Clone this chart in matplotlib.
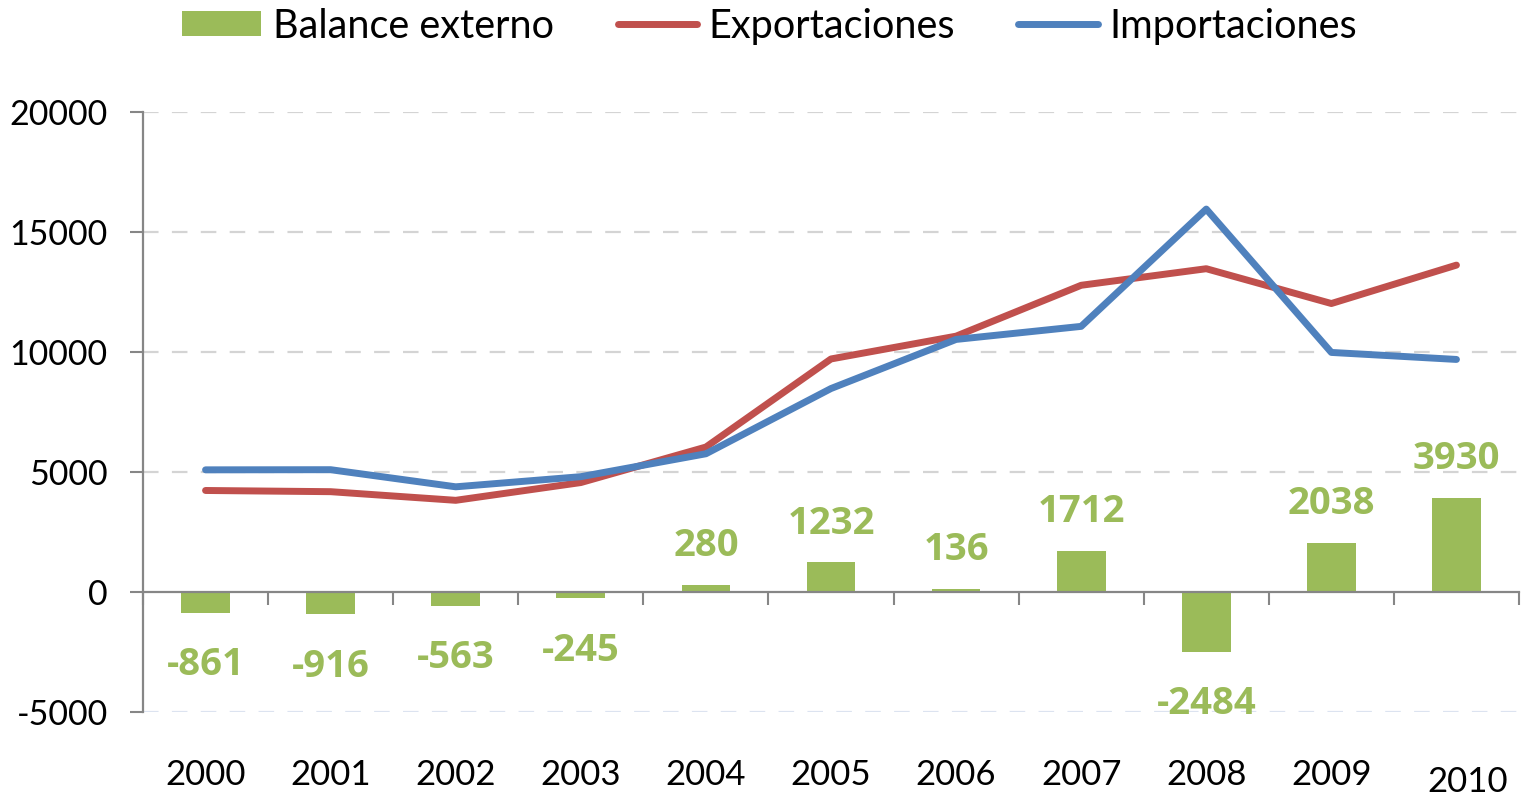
import matplotlib
matplotlib.use("Agg")
import matplotlib.pyplot as plt
import matplotlib.transforms as mtransforms

years = ["2000", "2001", "2002", "2003", "2004", "2005", "2006", "2007", "2008", "2009", "2010"]
balance = [-861, -916, -563, -245, 280, 1232, 136, 1712, -2484, 2038, 3930]
exportaciones = [4230, 4180, 3820, 4560, 6040, 9710, 10660, 12780, 13470, 12020, 13620]
importaciones = [5090, 5096, 4383, 4805, 5760, 8478, 10524, 11068, 15954, 9982, 9690]

green = "#9BBB59"
red = "#C0504D"
blue = "#4F81BD"
axis_gray = "#868686"

plt.rcParams['font.family'] = ['Lato', 'DejaVu Sans']
plt.rcParams['axes.unicode_minus'] = False

fig = plt.figure(figsize=(15.21, 7.98), dpi=100)
ax = fig.add_axes([143 / 1521, 1 - 712 / 798, (1519 - 143) / 1521, 600 / 798])

x = list(range(len(years)))

# gridlines
for g in [5000, 10000, 15000, 20000]:
    ax.axhline(g, color="#D4D4D4", lw=1.6, dashes=(7, 6), zorder=0)
ax.axhline(-5000, color="#DCE3F0", lw=1.6, dashes=(7, 6), zorder=0)

bars = ax.bar(x, balance, width=0.39, color=green, zorder=2, label="Balance externo")
l1, = ax.plot(x, exportaciones, color=red, lw=5, solid_capstyle="round", zorder=3, label="Exportaciones")
l2, = ax.plot(x, importaciones, color=blue, lw=5, solid_capstyle="round", zorder=4, label="Importaciones")

for xi, v in zip(x, balance):
    off = 28 if v >= 0 else -38
    ax.annotate(str(v), (xi, v), xytext=(0, off), textcoords="offset points",
                ha="center", va="center", fontsize=27.5, fontweight="bold", color=green,
                family=["Open Sans", "DejaVu Sans"])

ax.set_xlim(-0.5, len(years) - 0.5)
ax.set_ylim(-5000, 20000)
ax.set_yticks([-5000, 0, 5000, 10000, 15000, 20000])
ax.tick_params(axis="y", length=9.4, width=1.5, color=axis_gray, pad=16, labelsize=24.5)

ax.set_xticks([i - 0.5 for i in range(len(years) + 1)])
ax.set_xticklabels([])
ax.tick_params(axis="x", length=9.4, width=1.5, color=axis_gray, direction="out")

ax.spines["top"].set_visible(False)
ax.spines["right"].set_visible(False)
ax.spines["left"].set_color(axis_gray)
ax.spines["left"].set_linewidth(1.6)
ax.spines["bottom"].set_color(axis_gray)
ax.spines["bottom"].set_linewidth(1.6)
ax.spines["bottom"].set_position(("data", 0))

trans = mtransforms.blended_transform_factory(ax.transData, ax.transAxes)
for xi, yr in zip(x, years):
    if yr == "2010":
        ax.text(xi + 0.09, -0.116, yr, transform=trans, ha="center", va="center", fontsize=25)
    else:
        ax.text(xi, -0.105, yr, transform=trans, ha="center", va="center", fontsize=25)

fig.legend([bars, l1, l2], ["Balance externo", "Exportaciones", "Importaciones"],
           loc="upper center", bbox_to_anchor=(0.506, 1.035), ncol=3, frameon=False,
           fontsize=28.5, handlelength=2.0, handletextpad=0.3, columnspacing=1.6,
           handleheight=0.6)

fig.savefig("out.png", dpi=100)
